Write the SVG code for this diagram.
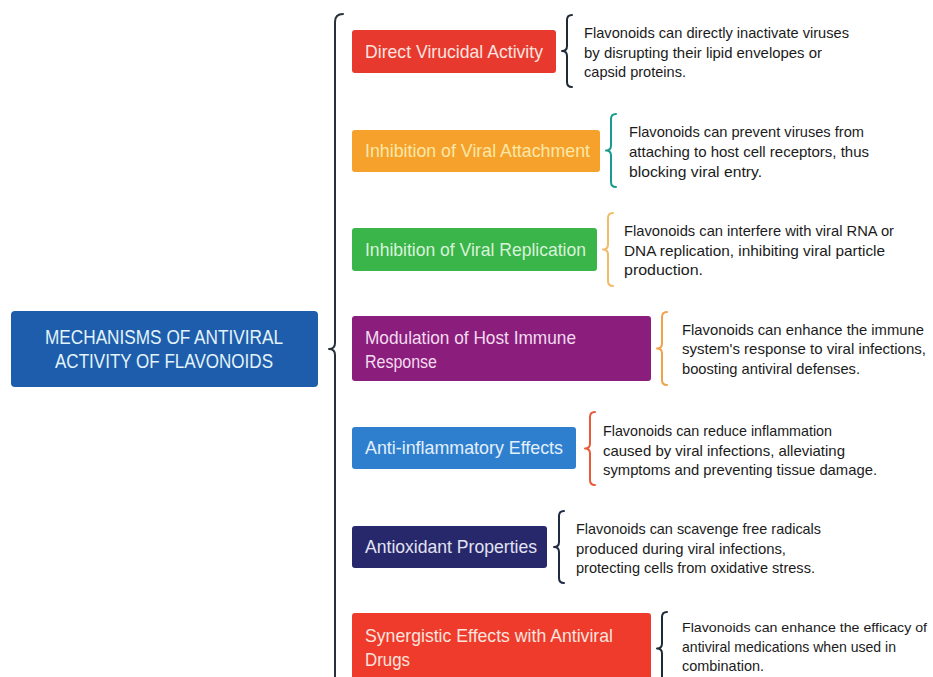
<svg xmlns="http://www.w3.org/2000/svg" width="933" height="677" viewBox="0 0 933 677">
<style>
.bt{font-family:"Liberation Sans",Arial,sans-serif;font-size:19px;}
.rt{font-family:"Liberation Sans",Arial,sans-serif;font-size:20px;fill:#e3f3fa;}
.dt{font-family:"Liberation Sans",Arial,sans-serif;font-size:15px;fill:#1b1b1b;}
.br{fill:none;stroke-width:2;stroke-linecap:round;stroke-linejoin:round;}
</style>
<rect width="933" height="677" fill="#ffffff"/>
<g id="connectors">
<path class="br" stroke="#27313b" stroke-width="2.5" d="M343,14 Q335,14 335,22 L335,343 Q335,349 329,349 Q335,349 335,355 L335,680"/>
<path class="br" stroke="#1e2a36" d="M572,15 Q567,15 567,20 L567,46 Q567,51 562,51 Q567,51 567,56 L567,82 Q567,87 572,87"/>
<path class="br" stroke="#1a9a8c" d="M616,114 Q611,114 611,119 L611,145.5 Q611,150.5 606,150.5 Q611,150.5 611,155.5 L611,182 Q611,187 616,187"/>
<path class="br" stroke="#f0bc6a" d="M613,213 Q608,213 608,218 L608,244.5 Q608,249.5 603,249.5 Q608,249.5 608,254.5 L608,281 Q608,286 613,286"/>
<path class="br" stroke="#f0a24a" d="M667,312 Q662,312 662,317 L662,343.5 Q662,348.5 657,348.5 Q662,348.5 662,353.5 L662,380 Q662,385 667,385"/>
<path class="br" stroke="#e85a38" d="M595,412 Q590,412 590,417 L590,443.5 Q590,448.5 585,448.5 Q590,448.5 590,453.5 L590,480 Q590,485 595,485"/>
<path class="br" stroke="#1f2a44" d="M564,511 Q559,511 559,516 L559,542 Q559,547 554,547 Q559,547 559,552 L559,578 Q559,583 564,583"/>
<path class="br" stroke="#1e2a36" d="M667,612 Q662,612 662,617 L662,643.5 Q662,648.5 657,648.5 Q662,648.5 662,653.5 L662,680 Q662,685 667,685"/>
</g>
<g id="root">
<rect x="11" y="311" width="307" height="76" rx="4" fill="#1d5dab"/>
<text class="rt" x="164" y="344" text-anchor="middle" textLength="238" lengthAdjust="spacingAndGlyphs">MECHANISMS OF ANTIVIRAL</text>
<text class="rt" x="164" y="368" text-anchor="middle" textLength="218" lengthAdjust="spacingAndGlyphs">ACTIVITY OF FLAVONOIDS</text>
</g>
<g id="node1">
<rect x="352" y="30" width="204" height="43" rx="3" fill="#e8392f"/>
<text class="bt" x="365" y="58" fill="#fbe3df" textLength="178" lengthAdjust="spacingAndGlyphs">Direct Virucidal Activity</text>
<g class="dt"><text x="584" y="38" textLength="265" lengthAdjust="spacingAndGlyphs">Flavonoids can directly inactivate viruses</text>
<text x="584" y="58" textLength="238" lengthAdjust="spacingAndGlyphs">by disrupting their lipid envelopes or</text>
<text x="584" y="77" textLength="102" lengthAdjust="spacingAndGlyphs">capsid proteins.</text></g>
</g>
<g id="node2">
<rect x="352" y="130" width="248" height="42" rx="3" fill="#f5a12c"/>
<text class="bt" x="365" y="157" fill="#fbe8a8" textLength="225" lengthAdjust="spacingAndGlyphs">Inhibition of Viral Attachment</text>
<g class="dt"><text x="629" y="137" textLength="235" lengthAdjust="spacingAndGlyphs">Flavonoids can prevent viruses from</text>
<text x="629" y="157" textLength="240" lengthAdjust="spacingAndGlyphs">attaching to host cell receptors, thus</text>
<text x="629" y="177" textLength="133" lengthAdjust="spacingAndGlyphs">blocking viral entry.</text></g>
</g>
<g id="node3">
<rect x="352" y="228" width="245" height="43" rx="3" fill="#3ab54a"/>
<text class="bt" x="365" y="256" fill="#d9f2d9" textLength="221" lengthAdjust="spacingAndGlyphs">Inhibition of Viral Replication</text>
<g class="dt"><text x="624" y="236" textLength="270" lengthAdjust="spacingAndGlyphs">Flavonoids can interfere with viral RNA or</text>
<text x="624" y="256" textLength="261" lengthAdjust="spacingAndGlyphs">DNA replication, inhibiting viral particle</text>
<text x="624" y="275" textLength="79" lengthAdjust="spacingAndGlyphs">production.</text></g>
</g>
<g id="node4">
<rect x="352" y="316" width="299" height="65" rx="3" fill="#8b1e7c"/>
<text class="bt" x="365" y="344" fill="#f3dbef" textLength="211" lengthAdjust="spacingAndGlyphs">Modulation of Host Immune</text>
<text class="bt" x="365" y="368" fill="#f3dbef" textLength="72" lengthAdjust="spacingAndGlyphs">Response</text>
<g class="dt"><text x="682" y="335" textLength="242" lengthAdjust="spacingAndGlyphs">Flavonoids can enhance the immune</text>
<text x="682" y="354" textLength="244" lengthAdjust="spacingAndGlyphs">system's response to viral infections,</text>
<text x="682" y="374" textLength="178" lengthAdjust="spacingAndGlyphs">boosting antiviral defenses.</text></g>
</g>
<g id="node5">
<rect x="352" y="427" width="224" height="42" rx="3" fill="#2f7fcf"/>
<text class="bt" x="365" y="454" fill="#e3f0fb" textLength="198" lengthAdjust="spacingAndGlyphs">Anti-inflammatory Effects</text>
<g class="dt"><text x="603" y="436" textLength="229" lengthAdjust="spacingAndGlyphs">Flavonoids can reduce inflammation</text>
<text x="603" y="456" textLength="242" lengthAdjust="spacingAndGlyphs">caused by viral infections, alleviating</text>
<text x="603" y="475" textLength="274" lengthAdjust="spacingAndGlyphs">symptoms and preventing tissue damage.</text></g>
</g>
<g id="node6">
<rect x="352" y="526" width="195" height="42" rx="3" fill="#27286b"/>
<text class="bt" x="365" y="553" fill="#e2e2f2" textLength="172" lengthAdjust="spacingAndGlyphs">Antioxidant Properties</text>
<g class="dt"><text x="576" y="534" textLength="245" lengthAdjust="spacingAndGlyphs">Flavonoids can scavenge free radicals</text>
<text x="576" y="554" textLength="210" lengthAdjust="spacingAndGlyphs">produced during viral infections,</text>
<text x="576" y="573" textLength="239" lengthAdjust="spacingAndGlyphs">protecting cells from oxidative stress.</text></g>
</g>
<g id="node7">
<rect x="352" y="613" width="299" height="75" rx="3" fill="#ee3b2b"/>
<text class="bt" x="365" y="642" fill="#fbe3df" textLength="248" lengthAdjust="spacingAndGlyphs">Synergistic Effects with Antiviral</text>
<text class="bt" x="365" y="666" fill="#fbe3df" textLength="45" lengthAdjust="spacingAndGlyphs">Drugs</text>
<g class="dt"><text x="682" y="632" font-size="13.5" textLength="245" lengthAdjust="spacingAndGlyphs">Flavonoids can enhance the efficacy of</text>
<text x="682" y="652" textLength="214" lengthAdjust="spacingAndGlyphs">antiviral medications when used in</text>
<text x="682" y="671" textLength="82" lengthAdjust="spacingAndGlyphs">combination.</text></g>
</g>
</svg>
